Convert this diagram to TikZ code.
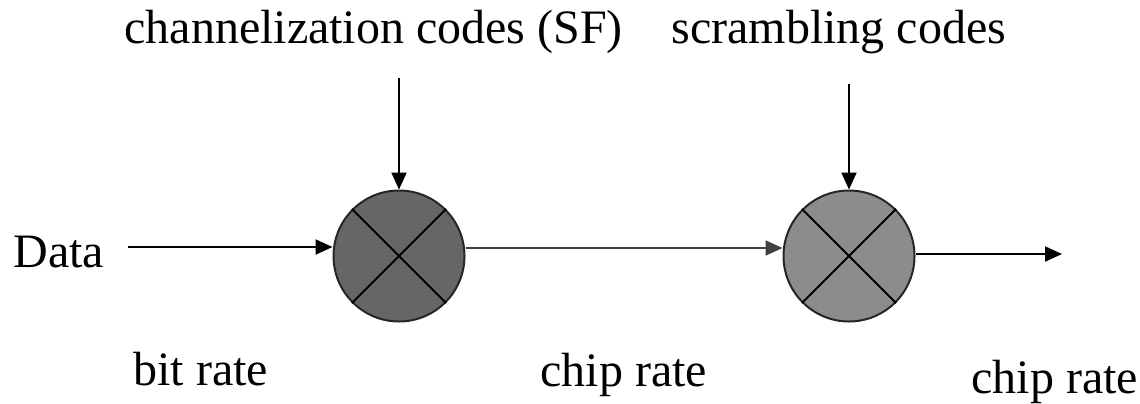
\documentclass[tikz,border=0pt]{standalone}
\usepackage{fontspec}
\setmainfont{Liberation Serif}
\usetikzlibrary{arrows.meta}
\definecolor{mixdark}{HTML}{666666}
\definecolor{mixlight}{HTML}{8C8C8C}
\tikzset{
  mixer/.style={circle, draw=black!85, line width=1pt, minimum size=65.5pt, inner sep=0pt},
  arr/.style={-{Triangle[length=8.5pt,width=7.5pt]}, line width=1pt},
  lbl/.style={anchor=base west, inner sep=0pt, font=\fontsize{24}{28}\selectfont}
}
\begin{document}
\begin{tikzpicture}[x=0.5pt,y=-0.5pt]
			\useasboundingbox (0,0) rectangle (1140,403);
			\node[mixer, fill=mixdark](mixA) at(399,256){};
			\node[mixer, fill=mixlight](mixB) at(849,256){};
			\draw[line width=1pt](mixA.north west)--(mixA.south east);
			\draw[line width=1pt](mixA.north east)--(mixA.south west);
			\draw[line width=1pt](mixB.north west)--(mixB.south east);
			\draw[line width=1pt](mixB.north east)--(mixB.south west);
			\node[lbl](chan) at(124,43){channelization codes (SF)};
			\node[lbl](scram) at(671,43){scrambling codes};
			\node[lbl](data) at(13,267){Data};
			\node[lbl](bitrate) at(133,385){bit rate};
			\node[lbl](chipA) at(540,386){chip rate};
			\node[lbl](chipB) at(971,393){chip rate};
			\coordinate(chanin) at(399,78);
			\coordinate(scramin) at(849,84);
			\coordinate(datain) at(128,247);
			\coordinate(midline) at(0,248);
			\coordinate(chipout) at(1062,254);
			\draw[arr](chanin)--(mixA.north);
			\draw[arr](scramin)--(mixB.north);
			\draw[arr](datain)--(datain -| mixA.west);
			\draw[arr, draw=black!75](midline -| mixA.east)--(midline -| mixB.west);
			\draw[arr](chipout -| mixB.east)--(chipout);
		\end{tikzpicture}
\end{document}
